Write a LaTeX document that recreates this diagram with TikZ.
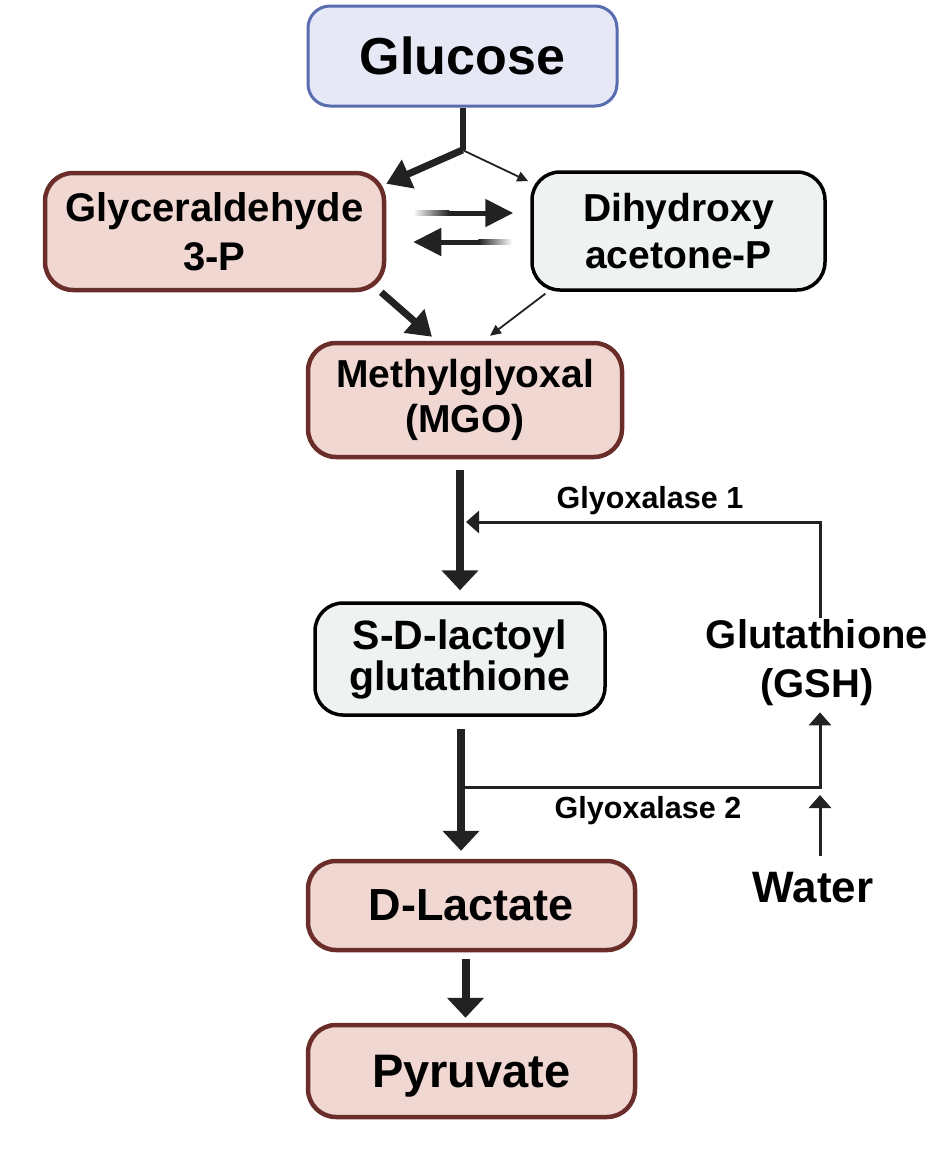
\documentclass[tikz,border=0pt]{standalone}
\usepackage{fontspec}
\setmainfont{Liberation Sans}
\usetikzlibrary{arrows.meta,calc}
\definecolor{ink}{HTML}{222222}
\definecolor{glcfill}{HTML}{E6E8F6}
\definecolor{glcdraw}{HTML}{5A6CB0}
\definecolor{pinkfill}{HTML}{F0D7D2}
\definecolor{pinkdraw}{HTML}{6B2D29}
\definecolor{greyfill}{HTML}{EEF2F1}
\newcommand\myfs[2]{\fontsize{#1}{#2}\selectfont\bfseries}
\begin{document}
\begin{tikzpicture}[x=1pt,y=-1pt,
  box/.style={rounded corners=28pt, inner sep=0pt, align=center, text=black},
  glcbox/.style={box, fill=glcfill, draw=glcdraw, line width=3pt, rounded corners=22pt},
  pinkbox/.style={box, fill=pinkfill, draw=pinkdraw, line width=4.5pt},
  greybox/.style={box, fill=greyfill, draw=black, line width=3.5pt},
  lbl/.style={inner sep=0pt, align=center, text=black},
  mainarrow/.style={draw=ink, line width=8pt, -{Triangle[length=20pt,width=36pt]}},
  diagarrow/.style={draw=ink, line width=7pt, -{Triangle[length=24pt,width=30pt]}},
  thinarrow/.style={draw=ink, line width=1.8pt, -{Triangle[length=11pt,width=10pt]}},
  eqarrow/.style={draw=ink, line width=5pt, -{Triangle[length=28pt,width=27pt]}},
  glyline/.style={draw=ink, line width=3pt},
  glyarrow/.style={glyline, -{Triangle[length=13pt,width=22pt]}}
]
\useasboundingbox[fill=white] (0,0) rectangle (942,1149);

% boxes
\node[glcbox, minimum width=309pt, minimum height=100pt, font=\myfs{52}{60}] (glc) at (462.5,56) {Glucose};
\node[pinkbox, minimum width=339pt, minimum height=117pt, font=\myfs{40}{49}] (g3p) at (214.5,231.5) {Glyceraldehyde\\3-P};
\node[greybox, minimum width=293pt, minimum height=118pt, font=\myfs{39}{47}] (dhap) at (678.5,231) {Dihydroxy\\acetone-P};
\node[pinkbox, minimum width=314pt, minimum height=114pt, font=\myfs{39}{45}] (mgo) at (465,400) {Methylglyoxal\\(MGO)};
\node[greybox, minimum width=290pt, minimum height=112pt, font=\myfs{41}{41}] (sdl) at (460,659) {S-D-lactoyl\\glutathione};
\node[pinkbox, minimum width=327pt, minimum height=89pt, font=\myfs{45}{52}, text depth=0pt] (dl) at (471.5,905.5) {D-Lactate};
\node[pinkbox, minimum width=327pt, minimum height=92pt, font=\myfs{47}{54}, text depth=0pt] (pyr) at (471.5,1071) {Pyruvate};

% free labels
\node[lbl, font=\myfs{40}{49}] (gsh) at (817,663) {Glutathione\\(GSH)};
\node[lbl, font=\myfs{44}{50}, text depth=0pt] (water) at (813,887) {Water};
\node[lbl, font=\myfs{30.5}{36}] (gly1) at (650,501) {Glyoxalase 1};
\node[lbl, font=\myfs{30.5}{36}] (gly2) at (648,811) {Glyoxalase 2};

% glucose split
\coordinate (br) at (462.5,150);
\draw[draw=ink, line width=6pt] (glc.south) -- (br);
\draw[diagarrow] (br) -- ($(g3p.north east)+(0,13)$);
\draw[thinarrow] (br) -- ($(dhap.north west)+(-2,11)$);

% equilibrium
\draw[eqarrow] ($(g3p.east)+(28,-18.5)$) -- ($(dhap.west)+(-17,-18)$);
\draw[eqarrow] ($(dhap.west)+(-19,11)$) -- ($(g3p.east)+(27,10.5)$);
\shade[left color=white, right color=ink] ($(g3p.east)+(27,-21)$) rectangle ($(g3p.east)+(63,-16)$);
\shade[left color=ink, right color=white] ($(dhap.west)+(-52,8.5)$) rectangle ($(dhap.west)+(-18,13.5)$);

% to MGO
\draw[diagarrow] ($(g3p.south east)+(-5,0)$) -- ($(mgo.north)+(-33,-4)$);
\draw[thinarrow] ($(dhap.south west)+(15,2)$) -- ($(mgo.north)+(25,-5)$);

% glyoxalase 1
\coordinate (c1) at (820,522);
\draw[glyarrow] ($(gsh.north)+(3,-2)$) -- (c1) -- ($(c1 -| sdl.north)+(6,0)$);

% glyoxalase 2 and water
\coordinate (c2) at (820,787);
\draw[glyarrow] ($(c2 -| sdl.south)+(1,0)$) -- (c2) -- ($(gsh.south)+(3,6)$);
\draw[glyarrow] ($(water.north)+(7,-16)$) -- ($(c2)+(0,8)$);

% main flow
\draw[mainarrow] ($(mgo.south -| sdl.north)+(0,11)$) -- ($(sdl.north)+(0,-11)$);
\draw[mainarrow] ($(sdl.south)+(1,12)$) -- ($(sdl.south |- dl.north)+(1,-8)$);
\draw[mainarrow] ($(dl.south)+(-6,7)$) -- ($(pyr.north)+(-6,-5)$);
\end{tikzpicture}
\end{document}
